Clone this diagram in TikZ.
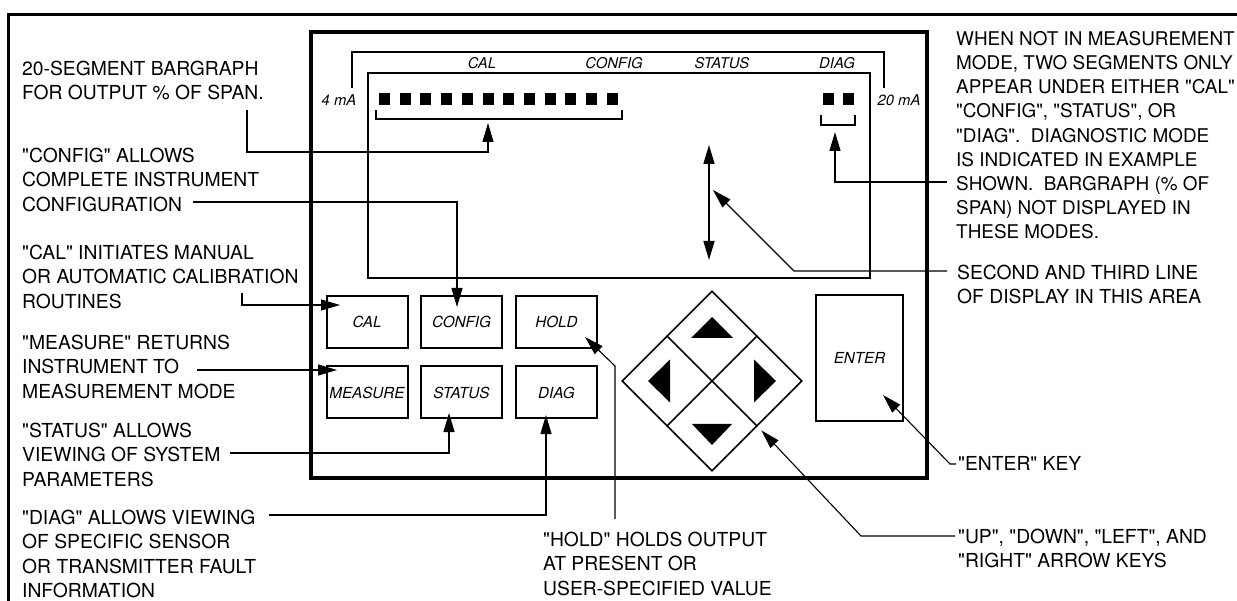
\documentclass[tikz,border=0pt]{standalone}
\usepackage{fontspec}
\newfontfamily\heros{TeX Gyre Heros}
\usetikzlibrary{arrows.meta,shapes.geometric}

\begin{document}
\begin{tikzpicture}[x=1pt,y=-1pt,
    note/.style={anchor=north west,align=left,inner sep=0pt,
      font=\heros\fontsize{19.3}{24.3}\selectfont},
    keybox/.style={draw,line width=2pt,minimum width=81pt,minimum height=52pt,
      inner sep=0pt,font=\heros\fontsize{15.2}{18}\selectfont\itshape},
    tag/.style={inner sep=0pt,font=\heros\fontsize{14.8}{17}\selectfont\itshape},
    lead/.style={line width=1.1pt,-{Triangle[length=19pt,width=11pt]}},
    thinline/.style={line width=1.6pt}]
  \useasboundingbox (0,0) rectangle (1237,601);
  % page frame and instrument face
  \draw[line width=3pt] (8.5,601) -- (8.5,15) -- (1237,15);
  \draw[line width=3.5pt] (311,32) rectangle (927,478);
  \draw[line width=2pt] (368,73) rectangle (870,278);
  \draw[thinline] (352,88) -- (352,52) -- (884,52) -- (884,88);
  \node[tag] (tcal) at (482,63) {CAL};
  \node[tag] (tconfig) at (614,63) {CONFIG};
  \node[tag] (tstatus) at (722,63) {STATUS};
  \node[tag] (tdiag) at (837,63) {DIAG};
  \node[tag] (lo) at (339,100) {4 mA};
  \node[tag] (hi) at (899,100) {20 mA};
  % bargraph segments
  \foreach \seg in {0,...,11}{
    \fill ({379+20.7*\seg},93) rectangle +(11,12);
  }
  \fill (823,93) rectangle +(10.6,12);
  \fill (843,93) rectangle +(10.6,12);
  \draw[thinline] (376,110) -- (376,119) -- (622,119) -- (622,110);
  \draw[thinline] (821,115) -- (821,125) -- (855,125) -- (855,115);
  % display lines
  \coordinate (rowtop) at (709,145);
  \coordinate (rowbot) at (709,260);
  \draw[line width=1.4pt,{Triangle[length=19pt,width=11pt]}-{Triangle[length=19pt,width=11pt]}]
    (rowtop) -- (rowbot);
  % keys
  \foreach \name/\xx/\yy/\txt in {cal/367/322/CAL,config/461.5/322/CONFIG,
      hold/556.5/322/HOLD,measure/367/392.5/MEASURE,
      status/461.5/392.5/STATUS,diag/556.5/392.5/DIAG}{
    \node[keybox] (\name) at (\xx,\yy) {\txt};
  }
  \node[keybox,minimum width=87pt,minimum height=126pt] (enter) at (859.5,358) {ENTER};
  \node[draw,diamond,aspect=1,line width=1.6pt,inner sep=0pt,
    minimum width=180pt,minimum height=180pt] (pad) at (712,381) {};
  \draw[line width=1.6pt] (pad.north west) -- (pad.south east)
    (pad.north east) -- (pad.south west);
  \fill (712,317) -- (733,338) -- (691,338) -- cycle;
  \fill (712,445) -- (732,424) -- (692,424) -- cycle;
  \fill (648,381) -- (670,359.5) -- (670,402.5) -- cycle;
  \fill (776,381) -- (754,359.5) -- (754,402.5) -- cycle;
  % notes
  \node[note] (nbar) at (22,61) {20-SEGMENT BARGRAPH\\FOR OUTPUT \% OF SPAN.};
  \node[note] (nconfig) at (22,148) {"CONFIG" ALLOWS\\COMPLETE INSTRUMENT\\CONFIGURATION};
  \node[note] (ncal) at (22,245) {"CAL" INITIATES MANUAL\\OR AUTOMATIC CALIBRATION\\ROUTINES};
  \node[note] (nmeasure) at (22,335) {"MEASURE" RETURNS\\INSTRUMENT TO\\MEASUREMENT MODE};
  \node[note] (nstatus) at (22,423) {"STATUS" ALLOWS\\VIEWING OF SYSTEM\\PARAMETERS};
  \node[note] (ndiag) at (22,510)
    {"DIAG" ALLOWS VIEWING\\OF SPECIFIC SENSOR\\OR TRANSMITTER FAULT\\INFORMATION};
  \node[note] (nhold) at (543,532) {"HOLD" HOLDS OUTPUT\\AT PRESENT OR\\USER-SPECIFIED VALUE};
  \node[note,font=\heros\fontsize{18.9}{24.2}\selectfont] (nmode) at (956,31)
    {WHEN NOT IN MEASUREMENT\\MODE, TWO SEGMENTS ONLY\\
    APPEAR UNDER EITHER "CAL"\\"CONFIG", "STATUS", OR\\"DIAG".\ \ DIAGNOSTIC MODE\\
    IS INDICATED IN EXAMPLE\\SHOWN.\ \ BARGRAPH (\% OF\\SPAN) NOT DISPLAYED IN\\THESE MODES.};
  \node[note] (nlines) at (957,265) {SECOND AND THIRD LINE\\OF DISPLAY IN THIS AREA};
  \node[note] (nenter) at (958,456) {"ENTER" KEY};
  \node[note] (narrows) at (958,529) {"UP", "DOWN", "LEFT", AND\\"RIGHT" ARROW KEYS};
  % leaders
  \coordinate (barsrc) at (247,110);
  \coordinate (barknee) at (488,152);
  \coordinate (bartip) at (488,123);
  \draw[lead] (barsrc) |- (barknee) -- (bartip);
  \coordinate (cfgsrc) at (193,202);
  \coordinate (cfgtip) at (457,307);
  \draw[lead] (cfgsrc) -| (cfgtip);
  \coordinate (calsrc) at (242,293);
  \coordinate (caltip) at (340,305);
  \draw[lead] (calsrc) |- (caltip);
  \coordinate (meassrc) at (197,370);
  \coordinate (meastip) at (337,370);
  \draw[lead] (meassrc) -- (meastip);
  \coordinate (statsrc) at (230,453);
  \coordinate (stattip) at (449,413);
  \draw[lead] (statsrc) -| (stattip);
  \coordinate (diagsrc) at (269,515);
  \coordinate (diagtip) at (546,415);
  \draw[lead] (diagsrc) -| (diagtip);
  \coordinate (holdsrc) at (615,519);
  \coordinate (holdknee) at (615,366);
  \coordinate (holdtip) at (585,337);
  \draw[lead] (holdsrc) -- (holdknee) -- (holdtip);
  \coordinate (keysrc) at (955,536);
  \coordinate (keyknee) at (861,536);
  \draw[lead] (keysrc) -- (keyknee) -- ([shift={(4,4)}]pad.south east);
  \coordinate (entsrc) at (956,464);
  \coordinate (entknee) at (950,464);
  \coordinate (enttip) at (883,395);
  \draw[lead] (entsrc) -- (entknee) -- (enttip);
  \coordinate (dispsrc) at (947,271);
  \coordinate (dispknee) at (794,271);
  \coordinate (disptip) at (713,190);
  \draw[lead] (dispsrc) -- (dispknee) -- (disptip);
  \coordinate (segsrc) at (947,182);
  \coordinate (segtip) at (835,132);
  \draw[lead] (segsrc) -| (segtip);
\end{tikzpicture}
\end{document}
